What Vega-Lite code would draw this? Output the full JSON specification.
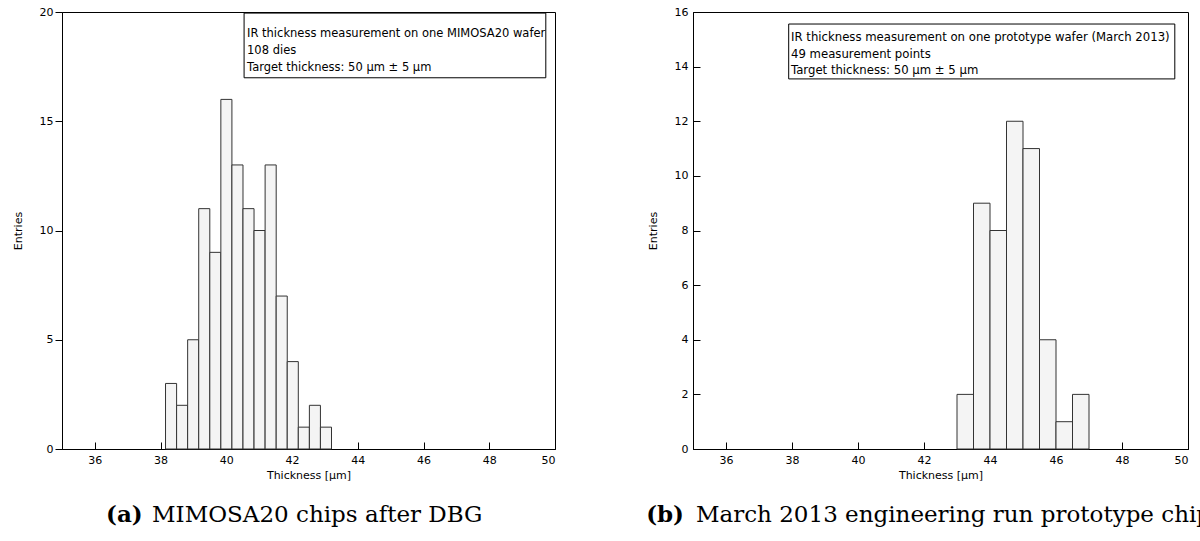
{
  "$schema": "https://vega.github.io/schema/vega-lite/v6.json",
  "padding": {"top": 5, "left": 11, "right": 0, "bottom": 0},
  "spacing": 89,
  "datasets": {
    "a": [
      {"lo": 38.150, "hi": 38.487, "n": 3},
      {"lo": 38.487, "hi": 38.823, "n": 2},
      {"lo": 38.823, "hi": 39.160, "n": 5},
      {"lo": 39.160, "hi": 39.497, "n": 11},
      {"lo": 39.497, "hi": 39.833, "n": 9},
      {"lo": 39.833, "hi": 40.170, "n": 16},
      {"lo": 40.170, "hi": 40.507, "n": 13},
      {"lo": 40.507, "hi": 40.843, "n": 11},
      {"lo": 40.843, "hi": 41.180, "n": 10},
      {"lo": 41.180, "hi": 41.517, "n": 13},
      {"lo": 41.517, "hi": 41.853, "n": 7},
      {"lo": 41.853, "hi": 42.190, "n": 4},
      {"lo": 42.190, "hi": 42.527, "n": 1},
      {"lo": 42.527, "hi": 42.863, "n": 2},
      {"lo": 42.863, "hi": 43.200, "n": 1}
    ],
    "b": [
      {"lo": 43.0, "hi": 43.5, "n": 2},
      {"lo": 43.5, "hi": 44.0, "n": 9},
      {"lo": 44.0, "hi": 44.5, "n": 8},
      {"lo": 44.5, "hi": 45.0, "n": 12},
      {"lo": 45.0, "hi": 45.5, "n": 11},
      {"lo": 45.5, "hi": 46.0, "n": 4},
      {"lo": 46.0, "hi": 46.5, "n": 1},
      {"lo": 46.5, "hi": 47.0, "n": 2}
    ],
    "one": [{}]
  },
  "config": {
    "view": {"stroke": "black", "strokeWidth": 1},
    "axis": {
      "grid": false,
      "domainColor": "black",
      "tickColor": "black",
      "labelFont": "DejaVu Sans",
      "labelFontSize": 11,
      "labelColor": "black",
      "titleFont": "DejaVu Sans",
      "titleFontSize": 11,
      "titleFontWeight": "normal",
      "titleColor": "black"
    }
  },
  "hconcat": [
    {
      "width": 493,
      "height": 437,
      "layer": [
        {
          "data": {"name": "a"},
          "mark": {"type": "rect", "fill": "#f4f4f4", "stroke": "#333333", "strokeWidth": 1},
          "encoding": {
            "x": {"field": "lo", "type": "quantitative", "scale": {"domain": [35, 50], "nice": false, "zero": false},
                  "axis": {"title": "Thickness [μm]", "values": [36, 38, 40, 42, 44, 46, 48, 50], "tickSize": -7, "labelPadding": 12, "titlePadding": 4}},
            "x2": {"field": "hi"},
            "y": {"field": "n", "type": "quantitative", "scale": {"domain": [0, 20], "nice": false},
                  "axis": {"title": "Entries", "values": [0, 5, 10, 15, 20], "tickSize": 7, "labelPadding": 2, "titlePadding": 16}},
            "y2": {"datum": 0}
          }
        },
        {
          "data": {"name": "one"},
          "mark": {"type": "rect", "fill": "white", "stroke": "black", "strokeWidth": 1},
          "encoding": {
            "x": {"datum": 40.54}, "x2": {"datum": 49.72},
            "y": {"datum": 19.95}, "y2": {"datum": 16.99}
          }
        },
        {
          "data": {"name": "one"},
          "mark": {"type": "text", "align": "left", "baseline": "alphabetic", "lineBreak": "\n", "lineHeight": 17, "font": "DejaVu Sans", "fontSize": 11.5, "color": "black"},
          "encoding": {
            "x": {"datum": 40.63}, "y": {"datum": 18.87},
            "text": {"value": "IR thickness measurement on one MIMOSA20 wafer\n108 dies\nTarget thickness: 50 μm ± 5 μm"}
          }
        },
        {
          "data": {"name": "one"},
          "mark": {"type": "text", "align": "left", "baseline": "middle", "font": "DejaVu Serif", "fontSize": 23, "fontWeight": "bold", "color": "black", "clip": false},
          "encoding": {"x": {"datum": 36.34}, "y": {"datum": -3.02}, "text": {"value": "(a)"}}
        },
        {
          "data": {"name": "one"},
          "mark": {"type": "text", "align": "left", "baseline": "middle", "font": "DejaVu Serif", "fontSize": 23, "color": "black", "clip": false},
          "encoding": {"x": {"datum": 37.74}, "y": {"datum": -3.02}, "text": {"value": "MIMOSA20 chips after DBG"}}
        }
      ]
    },
    {
      "width": 495,
      "height": 437,
      "layer": [
        {
          "data": {"name": "b"},
          "mark": {"type": "rect", "fill": "#f4f4f4", "stroke": "#333333", "strokeWidth": 1},
          "encoding": {
            "x": {"field": "lo", "type": "quantitative", "scale": {"domain": [35, 50], "nice": false, "zero": false},
                  "axis": {"title": "Thickness [μm]", "values": [36, 38, 40, 42, 44, 46, 48, 50], "tickSize": -7, "labelPadding": 12, "titlePadding": 4}},
            "x2": {"field": "hi"},
            "y": {"field": "n", "type": "quantitative", "scale": {"domain": [0, 16], "nice": false},
                  "axis": {"title": "Entries", "values": [0, 2, 4, 6, 8, 10, 12, 14, 16], "tickSize": -7, "labelPadding": 12, "titlePadding": 16}},
            "y2": {"datum": 0}
          }
        },
        {
          "data": {"name": "one"},
          "mark": {"type": "rect", "fill": "white", "stroke": "black", "strokeWidth": 1},
          "encoding": {
            "x": {"datum": 37.9}, "x2": {"datum": 49.6},
            "y": {"datum": 15.56}, "y2": {"datum": 13.55}
          }
        },
        {
          "data": {"name": "one"},
          "mark": {"type": "text", "align": "left", "baseline": "alphabetic", "lineBreak": "\n", "lineHeight": 16.5, "font": "DejaVu Sans", "fontSize": 11.7, "color": "black"},
          "encoding": {
            "x": {"datum": 37.97}, "y": {"datum": 14.93},
            "text": {"value": "IR thickness measurement on one prototype wafer (March 2013)\n49 measurement points\nTarget thickness: 50 μm ± 5 μm"}
          }
        },
        {
          "data": {"name": "one"},
          "mark": {"type": "text", "align": "left", "baseline": "middle", "font": "DejaVu Serif", "fontSize": 23, "fontWeight": "bold", "color": "black", "clip": false},
          "encoding": {"x": {"datum": 33.58}, "y": {"datum": -2.42}, "text": {"value": "(b)"}}
        },
        {
          "data": {"name": "one"},
          "mark": {"type": "text", "align": "left", "baseline": "middle", "font": "DejaVu Serif", "fontSize": 23, "color": "black", "clip": false},
          "encoding": {"x": {"datum": 35.09}, "y": {"datum": -2.42}, "text": {"value": "March 2013 engineering run prototype chips"}}
        }
      ]
    }
  ]
}
